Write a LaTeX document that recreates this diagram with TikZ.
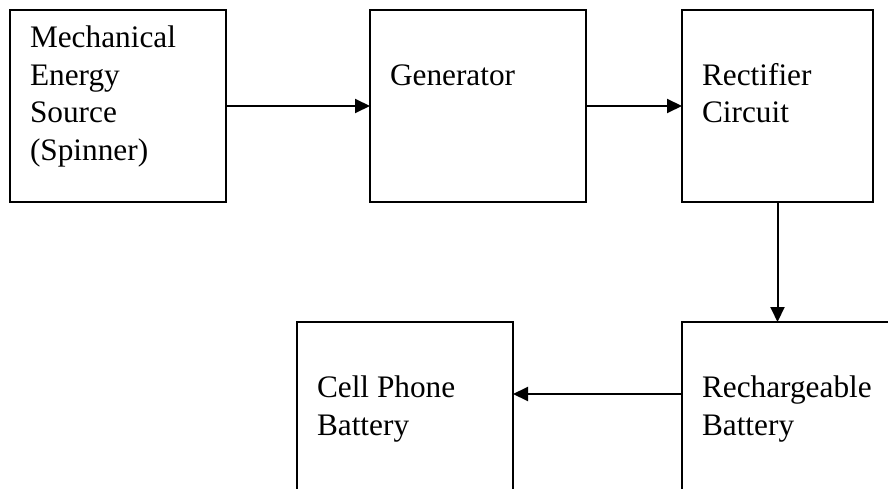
\documentclass[tikz,border=0pt]{standalone}
\usepackage{fontspec}
\setmainfont{Liberation Serif}
\usetikzlibrary{positioning, arrows.meta}

\newcommand{\blocktext}[2][176pt]{\parbox[c][192pt][t]{#1}{\rule{0pt}{38pt}#2}}

\begin{document}
\begin{tikzpicture}[
	block/.style={rectangle, draw, line width=2pt, minimum width=216pt, minimum height=192pt,
		inner sep=0pt, outer sep=0pt, font=\fontsize{31.3}{37.5}\selectfont},
	arrow/.style={-{Triangle[length=15pt,width=14pt]}, line width=2pt}
	]
	\useasboundingbox (0,0) rectangle (888pt,-489pt);
	\clip (0,0) rectangle (888pt,-489pt);
	
	% Blocks
	\node[block] (source) at (118pt,-106pt) {\blocktext{Mechanical\\Energy\\Source\\(Spinner)}};
	\node[block, right=144pt of source] (generator) {\blocktext{\\Generator}};
	\node[block, right=96pt of generator, minimum width=191pt] (rectifier) {\blocktext[151pt]{\\Rectifier\\Circuit}};
	\node[block, below=120pt of rectifier.south west, anchor=north west] (storage) {\blocktext{\\Rechargeable\\Battery}};
	\node[block, left=169pt of storage] (phone) {\blocktext{\\Cell Phone\\Battery}};
	
	% Arrows
	\draw[arrow] (source) -- (generator);
	\draw[arrow] (generator) -- (rectifier);
	\draw[arrow] (rectifier.south) -- (rectifier.south |- storage.north);
	\draw[arrow] ([yshift=-72pt]storage.north west) -- ([yshift=-72pt]phone.north east);
	
\end{tikzpicture}
\end{document}
